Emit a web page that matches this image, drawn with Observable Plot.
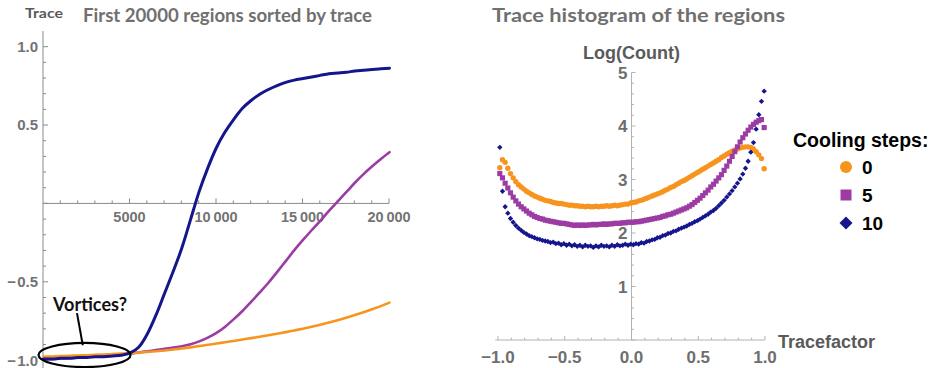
<!DOCTYPE html>
<html>
<head>
<meta charset="utf-8">
<script src="https://cdn.jsdelivr.net/npm/d3@7"></script>
<script src="https://cdn.jsdelivr.net/npm/@observablehq/plot@0.6"></script>
<style>
  body { margin: 0; background: #fff; }
  #wrap { position: relative; width: 935px; height: 368px; overflow: hidden; background: #fff; }
  #left { position: absolute; left: 0; top: 0; }
  #right { position: absolute; left: 460px; top: 0; }
  svg { overflow: visible; }
</style>
</head>
<body>
<div id="wrap"><div id="left"></div><div id="right"></div></div>
<script>
// ---------- Left panel: first 20000 regions sorted by trace ----------
const regionIndex = [0,500,1000,1500,2000,2500,3000,3500,4000,4500,5000,5500,6000,6500,7000,7500,8000,8500,9000,9500,10000,10500,11000,11500,12000,12500,13000,13500,14000,14500,15000,15500,16000,16500,17000,17500,18000,18500,19000,19500,20000];
const traceCooling0 = [-0.975,-0.973,-0.971,-0.969,-0.967,-0.965,-0.963,-0.961,-0.958,-0.955,-0.952,-0.948,-0.944,-0.94,-0.935,-0.929,-0.922,-0.915,-0.907,-0.899,-0.891,-0.882,-0.874,-0.865,-0.856,-0.847,-0.838,-0.828,-0.818,-0.807,-0.796,-0.784,-0.771,-0.757,-0.742,-0.726,-0.709,-0.691,-0.672,-0.652,-0.63];
const traceCooling5 = [-0.99,-0.99,-0.985,-0.983,-0.98,-0.977,-0.974,-0.97,-0.966,-0.961,-0.955,-0.948,-0.94,-0.933,-0.925,-0.917,-0.908,-0.895,-0.877,-0.853,-0.823,-0.783,-0.735,-0.683,-0.625,-0.565,-0.503,-0.435,-0.365,-0.295,-0.23,-0.168,-0.108,-0.045,0.015,0.075,0.135,0.19,0.24,0.287,0.33];
const traceCooling10 = [-0.99,-0.99,-0.985,-0.985,-0.98,-0.98,-0.975,-0.975,-0.97,-0.965,-0.95,-0.915,-0.83,-0.71,-0.57,-0.43,-0.28,-0.10,0.08,0.23,0.36,0.46,0.54,0.61,0.66,0.70,0.73,0.755,0.775,0.79,0.80,0.81,0.82,0.83,0.835,0.84,0.848,0.853,0.858,0.862,0.866];

const leftXTicks = [5000, 10000, 15000, 20000];
const leftXTickLabels = ["5000", "10\u2009000", "15\u2009000", "20\u2009000"];
const leftYTicks = [1.0, 0.5, -0.5, -1.0];
const leftYTickLabels = ["1.0", "0.5", "\u2212\u200a0.5", "\u2212\u200a1.0"];

// ---------- Right panel: trace histogram ----------
const tracefactorBins = [-0.99,-0.97,-0.95,-0.93,-0.91,-0.89,-0.87,-0.85,-0.83,-0.81,-0.79,-0.77,-0.75,-0.73,-0.71,-0.69,-0.67,-0.65,-0.63,-0.61,-0.59,-0.57,-0.55,-0.53,-0.51,-0.49,-0.47,-0.45,-0.43,-0.41,-0.39,-0.37,-0.35,-0.33,-0.31,-0.29,-0.27,-0.25,-0.23,-0.21,-0.19,-0.17,-0.15,-0.13,-0.11,-0.09,-0.07,-0.05,-0.03,-0.01,0.01,0.03,0.05,0.07,0.09,0.11,0.13,0.15,0.17,0.19,0.21,0.23,0.25,0.27,0.29,0.31,0.33,0.35,0.37,0.39,0.41,0.43,0.45,0.47,0.49,0.51,0.53,0.55,0.57,0.59,0.61,0.63,0.65,0.67,0.69,0.71,0.73,0.75,0.77,0.79,0.81,0.83,0.85,0.87,0.89,0.91,0.93,0.95,0.97,0.99];
const logCount0 = [3.23,3.38,3.33,3.22,3.12,3.04,2.97,2.91,2.87,2.83,
  2.79,2.76,2.73,2.70,2.68,2.66,2.64,2.62,2.61,2.60,
  2.58,2.57,2.56,2.56,2.55,2.54,2.53,2.53,2.52,2.52,
  2.51,2.51,2.50,2.51,2.50,2.50,2.51,2.50,2.51,2.51,
  2.52,2.51,2.52,2.53,2.52,2.53,2.54,2.55,2.55,2.57,
  2.58,2.59,2.61,2.62,2.64,2.66,2.68,2.70,2.72,2.74,
  2.76,2.78,2.81,2.83,2.86,2.88,2.91,2.94,2.97,2.99,
  3.02,3.05,3.08,3.11,3.14,3.17,3.20,3.23,3.26,3.29,
  3.32,3.35,3.38,3.42,3.45,3.48,3.51,3.54,3.56,3.58,
  3.60,3.61,3.62,3.62,3.61,3.58,3.53,3.47,3.40,3.21];
const logCount5 = [3.12,3.04,2.94,2.85,2.76,2.68,2.61,2.55,2.50,2.46,
  2.42,2.38,2.35,2.32,2.30,2.28,2.27,2.25,2.24,2.23,
  2.22,2.21,2.20,2.19,2.19,2.18,2.17,2.16,2.15,2.16,
  2.15,2.16,2.15,2.16,2.16,2.17,2.16,2.17,2.17,2.18,
  2.17,2.18,2.18,2.19,2.19,2.19,2.20,2.20,2.21,2.21,
  2.21,2.22,2.22,2.23,2.24,2.25,2.26,2.27,2.28,2.29,
  2.30,2.32,2.33,2.35,2.36,2.38,2.40,2.42,2.44,2.46,
  2.48,2.51,2.54,2.58,2.62,2.66,2.71,2.76,2.81,2.87,
  2.92,2.98,3.04,3.10,3.18,3.26,3.35,3.44,3.53,3.62,
  3.71,3.79,3.86,3.93,3.99,4.04,4.08,4.11,4.13,3.98];
const logCount10 = [3.61,2.79,2.50,2.38,2.28,2.21,2.15,2.10,2.06,2.02,
  1.99,1.96,1.94,1.92,1.90,1.89,1.87,1.86,1.85,1.83,
  1.84,1.81,1.82,1.79,1.81,1.78,1.80,1.77,1.79,1.76,
  1.78,1.75,1.78,1.76,1.77,1.74,1.77,1.75,1.78,1.76,
  1.77,1.75,1.78,1.76,1.79,1.77,1.78,1.80,1.78,1.80,
  1.79,1.81,1.80,1.83,1.82,1.85,1.86,1.88,1.89,1.92,
  1.93,1.96,1.97,2.00,2.01,2.04,2.05,2.08,2.10,2.12,
  2.14,2.17,2.19,2.22,2.24,2.27,2.30,2.33,2.36,2.40,
  2.43,2.47,2.52,2.57,2.62,2.68,2.74,2.80,2.87,2.94,
  3.02,3.11,3.22,3.35,3.52,3.70,3.95,4.22,4.47,4.66];

const rightXTicks = [-1, -0.5, 0, 0.5, 1];
const rightXTickLabels = ["\u22121.0", "\u22120.5", "0.0", "0.5", "1.0"];
const rightYTicks = [1, 2, 3, 4, 5];
const rightYTickLabels = ["1", "2", "3", "4", "5"];

const coolingSteps = ["0", "5", "10"];
const seriesColors = ["#f7941e", "#9b3ba3", "#15158c"];
const seriesSymbols = ["circle", "square", "diamond2"];

// annotation (data coordinates of the left panel)
const vortexNote = { label: "Vortices?", x: 2717, y: -0.687, px1: 1965, py1: -0.70, px2: 2300, py2: -0.905, cx: 2400, cy: -0.967, rx: 2660, ry: 0.077 };

// ---------- tables ----------
const lineRows = [];
[traceCooling0, traceCooling5, traceCooling10].forEach((arr, k) =>
  arr.forEach((v, i) => lineRows.push({ region: regionIndex[i], trace: v, steps: coolingSteps[k] })));
const histRows = [];
[logCount0, logCount5, logCount10].forEach((arr, k) =>
  arr.forEach((v, i) => histRows.push({ tf: tracefactorBins[i], lc: v, steps: coolingSteps[k] })));

const TICKFONT = "'Liberation Sans', Arial, sans-serif";
const TITLEFONT = "Lato, 'Open Sans', sans-serif";

function leftDecor(index, scales, values, dims) {
  const { x, y } = scales;
  const g = d3.create("svg:g");
  const ax = "#8a8a8a";
  g.append("line").attr("x1", x(0)).attr("x2", x(0)).attr("y1", dims.marginTop).attr("y2", dims.height).attr("stroke", ax);
  g.append("line").attr("x1", x(0)).attr("x2", x(20000)).attr("y1", y(0)).attr("y2", y(0)).attr("stroke", ax);
  for (const t of d3.range(1000, 20001, 1000)) {
    const major = t % 5000 === 0;
    g.append("line").attr("x1", x(t)).attr("x2", x(t)).attr("y1", y(0)).attr("y2", y(0) - (major ? 5 : 3)).attr("stroke", ax);
  }
  for (const t of d3.range(-10, 11, 1)) {
    const v = t / 10;
    const major = t % 5 === 0;
    g.append("line").attr("x1", x(0)).attr("x2", x(0) + (major ? 5 : 3)).attr("y1", y(v)).attr("y2", y(v)).attr("stroke", ax);
  }
  const lab = g.append("g").attr("font-family", TICKFONT).attr("font-weight", "bold").attr("fill", "#737373");
  leftXTicks.forEach((t, i) => lab.append("text").attr("x", x(t)).attr("y", y(0) + 19).attr("text-anchor", "middle").attr("font-size", 14.5).text(leftXTickLabels[i]));
  leftYTicks.forEach((t, i) => lab.append("text").attr("x", x(0) - 5).attr("y", y(t)).attr("dy", "0.36em").attr("text-anchor", "end").attr("font-size", 15).text(leftYTickLabels[i]));
  // titles
  g.append("text").attr("x", 25).attr("y", 18).attr("text-anchor", "start").attr("font-family", TITLEFONT).attr("font-weight", "bold").attr("font-size", 13).attr("fill", "#5a5a5a").attr("textLength", 38).attr("lengthAdjust", "spacingAndGlyphs").text("Trace");
  g.append("text").attr("x", 83).attr("y", 22).attr("text-anchor", "start").attr("font-family", TITLEFONT).attr("font-weight", "bold").attr("font-size", 19).attr("fill", "#707070").attr("textLength", 289).attr("lengthAdjust", "spacingAndGlyphs").text("First 20000 regions sorted by trace");
  return g.node();
}

function leftNote(index, scales) {
  const { x, y } = scales;
  const n = vortexNote;
  const g = d3.create("svg:g");
  g.append("ellipse").attr("cx", x(n.cx)).attr("cy", y(n.cy)).attr("rx", x(n.cx + n.rx) - x(n.cx)).attr("ry", y(n.cy - n.ry) - y(n.cy)).attr("fill", "none").attr("stroke", "#000").attr("stroke-width", 2.2);
  g.append("line").attr("x1", x(n.px1)).attr("y1", y(n.py1)).attr("x2", x(n.px2)).attr("y2", y(n.py2)).attr("stroke", "#000").attr("stroke-width", 2);
  g.append("text").attr("x", x(n.x)).attr("y", y(n.y)).attr("text-anchor", "middle").attr("font-family", TITLEFONT).attr("font-weight", "bold").attr("font-size", 19).attr("fill", "#111").attr("textLength", 74).attr("lengthAdjust", "spacingAndGlyphs").text(n.label);
  return g.node();
}

const leftPlot = Plot.plot({
  width: 460, height: 368,
  marginLeft: 43, marginRight: 71, marginTop: 31, marginBottom: 0,
  x: { domain: [0, 20000], axis: null },
  y: { domain: [-1.05, 1.1], axis: null },
  style: { background: "transparent", overflow: "visible" },
  marks: [
    leftDecor,
    Plot.line(lineRows.filter(d => d.steps === "5"), { x: "region", y: "trace", stroke: seriesColors[1], strokeWidth: 2.6, curve: "monotone-x" }),
    Plot.line(lineRows.filter(d => d.steps === "0"), { x: "region", y: "trace", stroke: seriesColors[0], strokeWidth: 2.6, curve: "monotone-x" }),
    Plot.line(lineRows.filter(d => d.steps === "10"), { x: "region", y: "trace", stroke: seriesColors[2], strokeWidth: 3, curve: "monotone-x" }),
    leftNote
  ]
});
document.getElementById("left").appendChild(leftPlot);

function rightDecor(index, scales, values, dims) {
  const { x, y } = scales;
  const g = d3.create("svg:g");
  const ax = "#b3b3b3";
  g.append("line").attr("x1", x(-1.02)).attr("x2", x(1.0)).attr("y1", y(0)).attr("y2", y(0)).attr("stroke", ax);
  g.append("line").attr("x1", x(0)).attr("x2", x(0)).attr("y1", y(0)).attr("y2", y(5)).attr("stroke", ax);
  for (const t of d3.range(-10, 11, 1)) {
    const v = t / 10;
    const major = t % 5 === 0;
    g.append("line").attr("x1", x(v)).attr("x2", x(v)).attr("y1", y(0)).attr("y2", y(0) - (major ? 4 : 2.5)).attr("stroke", ax);
  }
  for (const t of d3.range(0, 26, 1)) {
    const v = t / 5;
    const major = t % 5 === 0;
    g.append("line").attr("x1", x(0)).attr("x2", x(0) + (major ? 4 : 2.5)).attr("y1", y(v)).attr("y2", y(v)).attr("stroke", ax);
  }
  const lab = g.append("g").attr("font-family", TICKFONT).attr("font-weight", "bold").attr("fill", "#6e6e6e").attr("font-size", 17);
  rightXTicks.forEach((t, i) => lab.append("text").attr("x", x(t)).attr("y", y(0) + 23).attr("text-anchor", "middle").text(rightXTickLabels[i]));
  rightYTicks.forEach((t, i) => lab.append("text").attr("x", x(0) - 4).attr("y", y(t)).attr("dy", "0.36em").attr("text-anchor", "end").text(rightYTickLabels[i]));
  const axl = g.append("g").attr("font-family", TICKFONT).attr("font-weight", "bold").attr("fill", "#5a5a5a").attr("font-size", 18);
  axl.append("text").attr("x", x(0)).attr("y", 59).attr("text-anchor", "middle").text("Log(Count)");
  axl.append("text").attr("x", 318).attr("y", 348).attr("text-anchor", "start").text("Tracefactor");
  g.append("text").attr("x", 32).attr("y", 22).attr("text-anchor", "start").attr("font-family", TITLEFONT).attr("font-weight", "bold").attr("font-size", 19).attr("fill", "#707070").attr("textLength", 293).attr("lengthAdjust", "spacingAndGlyphs").text("Trace histogram of the regions");
  return g.node();
}

function rightLegend() {
  const g = d3.create("svg:g").attr("font-family", TICKFONT).attr("font-weight", "bold").attr("fill", "#000").attr("text-anchor", "start");
  g.append("text").attr("x", 333).attr("y", 147).attr("font-size", 19.5).text("Cooling steps:");
  const cx = 386, rows = [167, 195, 223];
  g.append("circle").attr("cx", cx).attr("cy", rows[0]).attr("r", 6).attr("fill", seriesColors[0]);
  g.append("rect").attr("x", cx - 5.5).attr("y", rows[1] - 5.5).attr("width", 11).attr("height", 11).attr("fill", seriesColors[1]);
  g.append("path").attr("d", `M${cx},${rows[2] - 6.5}L${cx + 6.5},${rows[2]}L${cx},${rows[2] + 6.5}L${cx - 6.5},${rows[2]}Z`).attr("fill", seriesColors[2]);
  coolingSteps.forEach((s, i) => g.append("text").attr("x", 402).attr("y", rows[i]).attr("dy", "0.36em").attr("font-size", 19).text(s));
  return g.node();
}

const rightPlot = Plot.plot({
  width: 475, height: 368,
  marginLeft: 35.3, marginRight: 170, marginTop: 72.5, marginBottom: 28,
  x: { domain: [-1.02, 1.0], axis: null },
  y: { domain: [0, 5], axis: null },
  style: { background: "transparent", overflow: "visible" },
  marks: [
    rightDecor,
    Plot.dot(histRows.filter(d => d.steps === "0"), { x: "tf", y: "lc", r: 2.7, fill: seriesColors[0], symbol: seriesSymbols[0] }),
    Plot.dot(histRows.filter(d => d.steps === "5"), { x: "tf", y: "lc", r: 2.9, fill: seriesColors[1], symbol: seriesSymbols[1] }),
    Plot.dot(histRows.filter(d => d.steps === "10"), { x: "tf", y: "lc", r: 2.4, fill: seriesColors[2], symbol: seriesSymbols[2] }),
    rightLegend
  ]
});
document.getElementById("right").appendChild(rightPlot);
</script>
</body>
</html>
